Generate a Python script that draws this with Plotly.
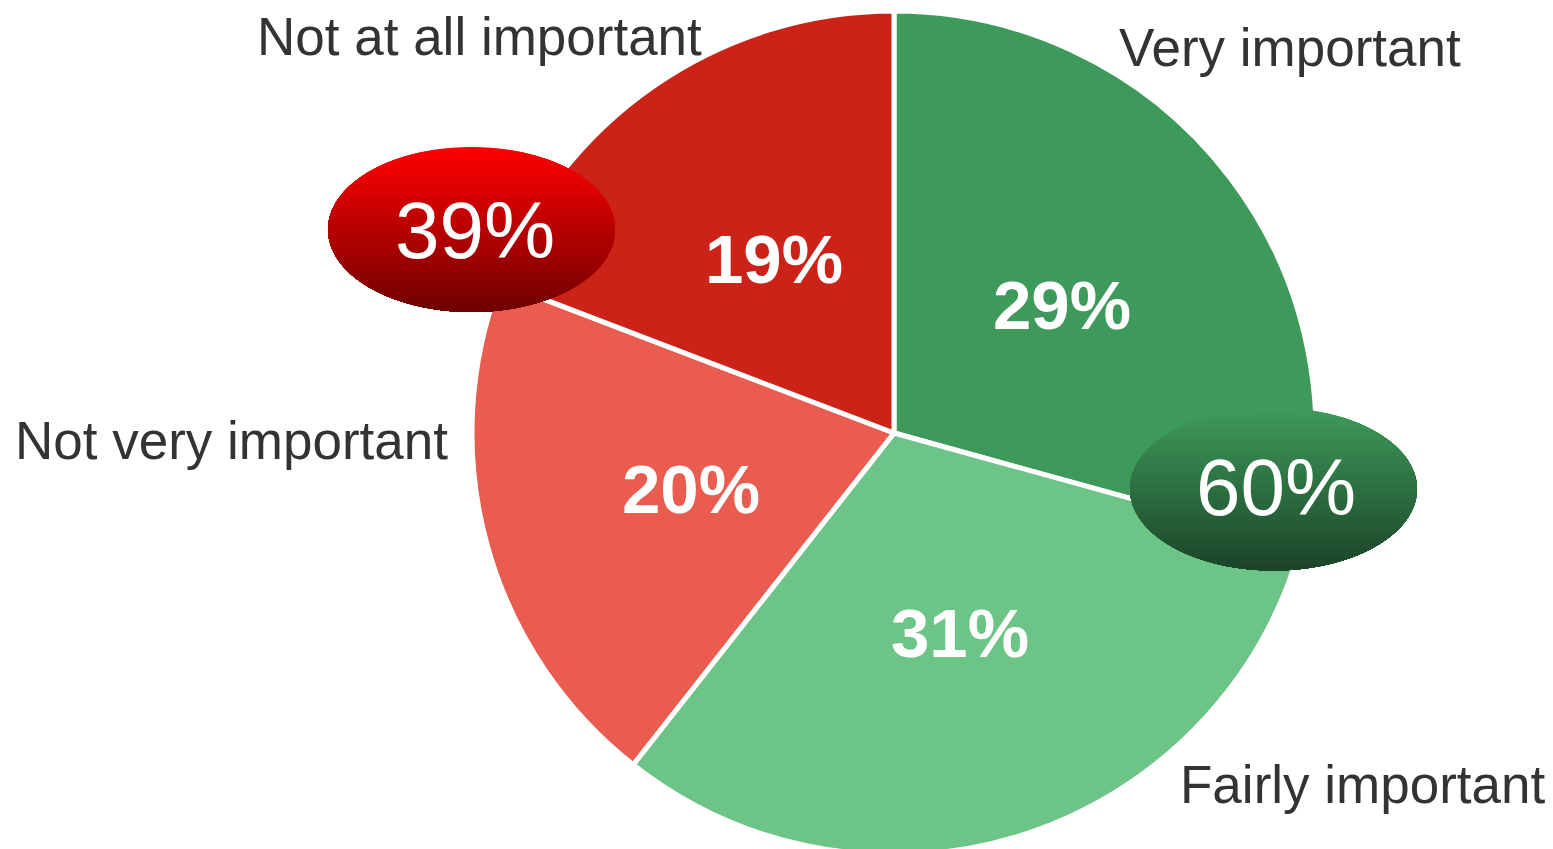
import math
import plotly.graph_objects as go

# ---- data ----
labels = ["Very important", "Fairly important", "Not very important", "Not at all important"]
values = [29, 31, 20, 19]
slice_colors = ["#3d9a5a", "#6cc586", "#ea5b50", "#cc2318"]

# ---- layout (screen pixels; page body has an 8px default margin) ----
OFF = 8
W, H = 1545, 849
FONT = "Arial, 'Liberation Sans', sans-serif"

PIE_CX, PIE_CY, PIE_R = 894, 433, 422


def px(x):
    return (x - OFF) / W


def py(y):
    return 1 - (y - OFF) / H


fig = go.Figure()
fig.add_trace(go.Pie(
    labels=labels,
    values=values,
    sort=False,
    direction="clockwise",
    rotation=0,
    marker=dict(colors=slice_colors, line=dict(color="white", width=5)),
    textinfo="none",
    hoverinfo="skip",
    showlegend=False,
    domain=dict(x=[px(PIE_CX - PIE_R), px(PIE_CX + PIE_R)],
                y=[py(PIE_CY + PIE_R), py(PIE_CY - PIE_R)]),
))


def hex2rgb(h):
    h = h.lstrip("#")
    return tuple(int(h[i:i + 2], 16) for i in (0, 2, 4))


def gradient_ellipse(cx, cy, a, b, top, bottom, n=60, m=90):
    shapes = []
    c0, c1 = hex2rgb(top), hex2rgb(bottom)
    for i in range(n):
        f = i / (n - 1)
        col = "rgb(%d,%d,%d)" % tuple(round(c0[k] + (c1[k] - c0[k]) * f) for k in range(3))
        y_top = cy - b + i * (2 * b / n)
        s = max(-1.0, min(1.0, (y_top - cy) / b))
        t0 = math.asin(s)
        t1 = math.pi - t0
        pts = []
        for j in range(m + 1):
            t = t0 + (t1 - t0) * j / m
            pts.append((cx + a * math.cos(t), cy + b * math.sin(t)))
        path = "M " + " L ".join("%.5f,%.5f" % (px(x), py(y)) for x, y in pts) + " Z"
        shapes.append(dict(type="path", path=path, xref="paper", yref="paper",
                           fillcolor=col, line=dict(width=0), layer="above"))
    return shapes


shapes = []
shapes += gradient_ellipse(471.5, 229.5, 143.5, 82.5, "#ff0000", "#700000")
shapes += gradient_ellipse(1273.5, 489, 143.5, 81.5, "#3f9a5b", "#1b4428")

annotations = []

# percentage labels inside each slice, placed on the slice bisector
total = sum(values)
cum = 0
for v in values:
    mid = (cum + v / 2) / total * 2 * math.pi
    cum += v
    x = PIE_CX + 0.5 * PIE_R * math.sin(mid)
    y = PIE_CY - 0.5 * PIE_R * math.cos(mid)
    annotations.append(dict(text="%d%%" % v, x=px(x), y=py(y),
                            font=dict(family=FONT, size=69, color="white", weight="bold")))

red_total = values[2] + values[3]
green_total = values[0] + values[1]
annotations += [
    dict(text="%d%%" % red_total, x=px(475), y=py(230), font=dict(family=FONT, size=80, color="white")),
    dict(text="%d%%" % green_total, x=px(1275.5), y=py(487), font=dict(family=FONT, size=80, color="white")),
]

label_pos = {
    "Very important": (1290, 47.5),
    "Fairly important": (1362, 784),
    "Not very important": (231, 441),
    "Not at all important": (480, 36),
}
for lab in labels:
    x, y = label_pos[lab]
    annotations.append(dict(text=lab, x=px(x), y=py(y),
                            font=dict(family=FONT, size=53, color="#333333")))

for a in annotations:
    a.update(xref="paper", yref="paper", xanchor="center", yanchor="middle", showarrow=False)

fig.update_layout(
    width=W, height=H,
    margin=dict(l=0, r=0, t=0, b=0),
    paper_bgcolor="white", plot_bgcolor="white",
    shapes=shapes,
    annotations=annotations,
)

fig.write_html("out.html")
